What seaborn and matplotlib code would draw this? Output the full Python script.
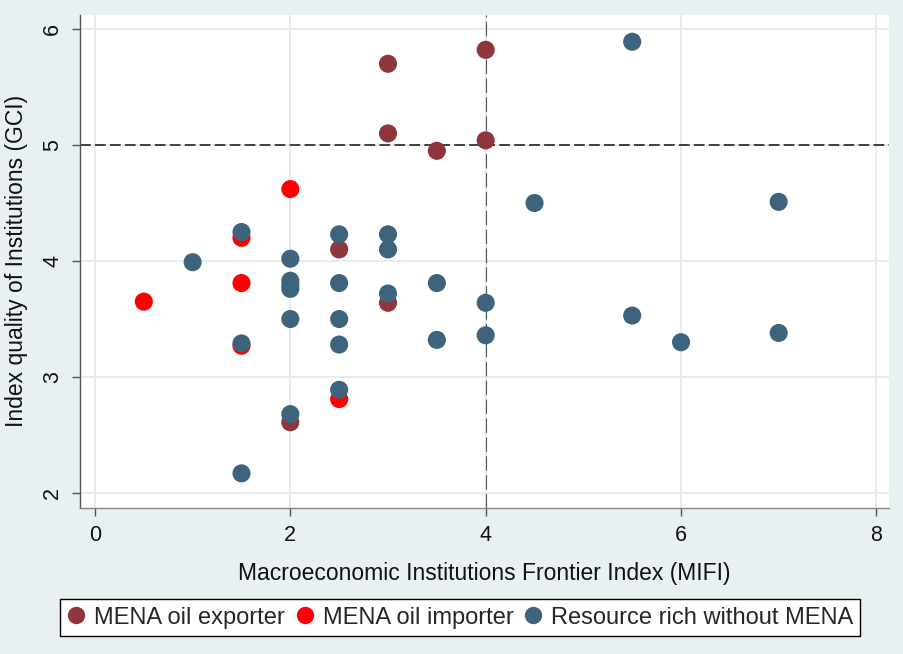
import numpy as np
import pandas as pd
import matplotlib
matplotlib.use("Agg")
import matplotlib.pyplot as plt
import seaborn as sns

# MIFI (x) and GCI institutions index (y) by country group
exporter_mifi = [3, 4, 3, 3.5, 4, 2.5, 3, 2]
exporter_gci = [5.70, 5.82, 5.10, 4.95, 5.04, 4.10, 3.64, 2.61]

importer_mifi = [2, 1.5, 1.5, 0.5, 1.5, 2.5]
importer_gci = [4.62, 4.20, 3.81, 3.65, 3.27, 2.81]

rich_mifi = [1, 1.5, 1.5, 1.5, 2, 2, 2, 2, 2, 2.5, 2.5, 2.5, 2.5, 2.5,
             3, 3, 3, 3.5, 3.5, 4, 4, 4.5, 5.5, 5.5, 6, 7, 7, 2]
rich_gci = [3.99, 4.25, 3.29, 2.17, 4.02, 3.83, 3.76, 3.50, 2.68, 4.23, 3.81,
            3.50, 3.28, 2.89, 4.23, 4.10, 3.72, 3.81, 3.32, 3.64, 3.36, 4.50,
            5.89, 3.53, 3.30, 4.51, 3.38, 3.79]

groups = ["MENA oil exporter", "MENA oil importer", "Resource rich without MENA"]
colors = ["#90353B", "#FF0000", "#3E647D"]

df = pd.DataFrame({
    "MIFI": exporter_mifi + importer_mifi + rich_mifi,
    "GCI": exporter_gci + importer_gci + rich_gci,
    "group": [groups[0]] * len(exporter_mifi)
             + [groups[1]] * len(importer_mifi)
             + [groups[2]] * len(rich_mifi),
})

x_ticks = [0, 2, 4, 6, 8]
y_ticks = [2, 3, 4, 5, 6]

sns.set_style("white")
plt.rcParams["font.family"] = ["Liberation Sans", "DejaVu Sans"]

bg = "#E8F0F2"
grid_c = "#E4ECEF"

fig = plt.figure(figsize=(9.04, 6.54), dpi=100, facecolor=bg)
ax = fig.add_axes([0.0882, 0.2232, 0.8953, 0.7543])
ax.set_facecolor("white")

# grid lines drawn beneath the markers
for xv in x_ticks:
    ax.axvline(xv, color=grid_c, lw=1.4, zorder=0)
for yv in y_ticks:
    ax.axhline(yv, color=grid_c, lw=1.4, zorder=0)

# reference lines
ax.axhline(5, color="#111111", lw=1.1, dashes=(7, 2.8), zorder=1)
ax.axvline(4, color="#555555", lw=0.8, dashes=(13, 4), zorder=1)

sns.scatterplot(data=df, x="MIFI", y="GCI", hue="group", hue_order=groups,
                palette=colors, s=170, linewidth=0, alpha=1, ax=ax,
                legend=False, zorder=3)

ax.set_xlim(-0.156, 8.13)
ax.set_ylim(1.871, 6.123)
ax.set_xticks(x_ticks)
ax.set_yticks(y_ticks)
ax.set_xticklabels([str(v) for v in x_ticks])
ax.set_yticklabels([str(v) for v in y_ticks], rotation=90, va="center")

for side in ["top", "right"]:
    ax.spines[side].set_visible(False)
ax.spines["left"].set_color("#555555")
ax.spines["bottom"].set_color("#888888")
ax.spines["left"].set_linewidth(1.0)
ax.spines["bottom"].set_linewidth(1.0)

ax.tick_params(axis="both", which="major", direction="out", length=6,
               width=1.0, color="#555555", labelsize=15.5, labelcolor="#111111",
               pad=6, left=True, bottom=True)

ax.set_xlabel("Macroeconomic Institutions Frontier Index (MIFI)",
              fontsize=16.5, color="#111111", labelpad=12)
ax.set_ylabel("Index quality of Institutions (GCI)",
              fontsize=16.5, color="#111111", labelpad=10)

handles = [plt.Line2D([], [], marker="o", ls="", markersize=12.5,
                      markerfacecolor=c, markeredgewidth=0) for c in colors]
leg = fig.legend(handles, groups, loc="center", bbox_to_anchor=(0.509, 0.0558),
                 ncol=3, frameon=True, fancybox=False, fontsize=17,
                 handletextpad=0.35, columnspacing=0.45, handlelength=0.8,
                 borderpad=0.3, borderaxespad=0, edgecolor="black",
                 facecolor="white")
leg.get_frame().set_linewidth(1.0)
leg.get_frame().set_alpha(1)

fig.savefig("out.png", dpi=100, facecolor=bg)
